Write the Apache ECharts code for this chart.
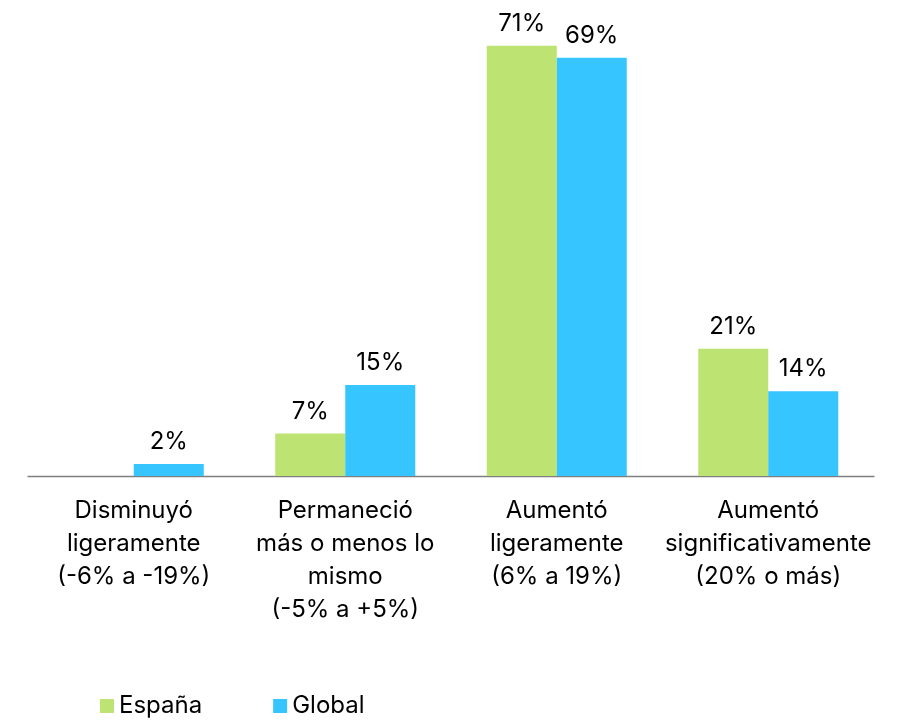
<!DOCTYPE html>
<html><head><meta charset="utf-8">
<script src="https://cdn.jsdelivr.net/npm/echarts@6/dist/echarts.min.js"></script>
<style>html,body{margin:0;padding:0;background:#fff}#c{width:902px;height:721px}</style>
</head><body><div id="c"></div>
<script>
const categories = [
  'Disminuyó\nligeramente\n(-6% a -19%)',
  'Permaneció\nmás o menos lo\nmismo\n(-5% a +5%)',
  'Aumentó\nligeramente\n(6% a 19%)',
  'Aumentó\nsignificativamente\n(20% o más)'
];
const espana = [null, 7, 71, 21];
const global = [2, 15, 69, 14];
const seriesNames = ['España', 'Global'];

const font = 'Inter, "Noto Sans", sans-serif';
const chart = echarts.init(document.getElementById('c'));
const lbl = {show: true, position: 'top', distance: 10, color: '#000', fontSize: 24, fontFamily: font, formatter: p => p.value + '%'};
chart.setOption({
  animation: false,
  grid: {left: 28, right: 28, top: 21.5, bottom: 245, containLabel: false},
  legend: {
    bottom: -2, left: 95, itemWidth: 14, itemHeight: 14, itemGap: 71,
    icon: 'rect',
    textStyle: {fontSize: 24, fontFamily: font, color: '#000', padding: [0,0,0,0]},
    data: seriesNames
  },
  xAxis: {
    type: 'category', data: categories,
    axisLine: {lineStyle: {color: '#7f7f7f', width: 1.3}},
    axisTick: {show: false},
    axisLabel: {fontSize: 24, fontFamily: font, color: '#000', lineHeight: 33, margin: 18, interval: 0}
  },
  yAxis: {type: 'value', min: 0, max: 75, show: false, splitLine: {show: false}},
  series: [
    {name: seriesNames[0], type: 'bar', data: espana, barGap: '0%', barCategoryGap: '33.8%', itemStyle: {color: '#BDE472'}, label: lbl},
    {name: seriesNames[1], type: 'bar', data: global, itemStyle: {color: '#36C5FF'}, label: lbl}
  ]
});
</script></body></html>
